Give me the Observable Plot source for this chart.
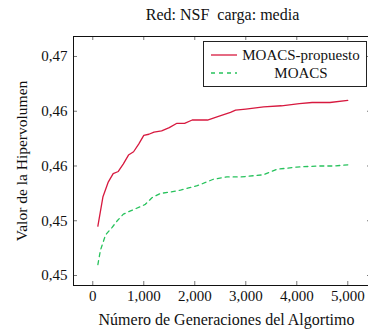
<!DOCTYPE html>
<html>
<head>
<meta charset="utf-8">
<script src="https://cdn.jsdelivr.net/npm/d3@7"></script>
<script src="https://cdn.jsdelivr.net/npm/@observablehq/plot@0.6"></script>
<style>
  html, body { margin: 0; padding: 0; background: #fff; overflow: hidden; }
  #wrap { position: relative; width: 368px; height: 333px; overflow: hidden; }
  #wrap svg, #wrap svg text { font-family: "Liberation Serif", serif !important; }
  #legend { position: absolute; left: 203px; top: 41px; width: 162px; height: 44px;
    border: 1px solid #222; background: #fff; font-family: "Liberation Serif", serif; font-size: 15px; color: #111; }
  .row { position: absolute; left: 0; width: 162px; height: 18px; }
  .row svg { position: absolute; left: 6px; top: 0; }
  .row span { position: absolute; left: 34px; right: 2px; text-align: center; line-height: 18px; }
</style>
</head>
<body>
<div id="wrap"></div>
<script>
const titleText = "Red: NSF  carga: media";
const xLabel = "Número de Generaciones del Algortimo";
const yLabel = "Valor de la Hipervolumen";
const seriesNames = ["MOACS-propuesto", "MOACS"];

const genPropuesto = [100,200,300,400,500,600,700,800,900,1000,1100,1200,1350,1500,1650,1800,1950,2250,2450,2700,2800,3000,3350,3700,4050,4300,4650,5000];
const hvPropuesto = [0.4545,0.4572,0.4585,0.4593,0.4595,0.4602,0.4610,0.4613,0.4620,0.4628,0.4629,0.4631,0.4632,0.4635,0.4639,0.4639,0.4642,0.4642,0.4645,0.4649,0.4651,0.4652,0.4654,0.4655,0.4657,0.4658,0.4658,0.4660];

const genMoacs = [100,150,250,380,480,600,740,940,1030,1160,1330,1490,1720,1880,2050,2210,2370,2630,2900,3350,3610,4000,4400,4720,5000];
const hvMoacs = [0.4510,0.4523,0.4537,0.4544,0.4550,0.4556,0.4559,0.4563,0.4565,0.4571,0.4575,0.4576,0.4578,0.4580,0.4582,0.4585,0.4588,0.4590,0.4590,0.4592,0.4597,0.4599,0.4600,0.4600,0.4601];

const xTicks = [0,1000,2000,3000,4000,5000];
const yTicks = [0.45,0.455,0.46,0.465,0.47];
const yTickLabels = ["0,45","0,45","0,46","0,46","0,47"];

const red = "#d7193f";
const green = "#27c25c";

const dataP = genPropuesto.map((g,i) => ({g, v: hvPropuesto[i]}));
const dataM = genMoacs.map((g,i) => ({g, v: hvMoacs[i]}));

const W = 368, H = 333;
const mL = 73, mR = -3, mT = 36, mB = 48;
const fw = W - mL - mR, fh = H - mT - mB;
const tl = 4;
const font = "Liberation Serif";

const chart = Plot.plot({
  width: W, height: H,
  marginLeft: mL, marginRight: mR, marginTop: mT, marginBottom: mB,
  style: {color: "#111", background: "#fff", overflow: "visible"},
  x: {domain: [-378, 5465], ticks: xTicks},
  y: {domain: [0.449087, 0.471826], ticks: yTicks},
  marks: [
    Plot.axisX(xTicks, {anchor: "bottom", tickSize: 0, tickPadding: 5, tickFormat: d3.format(","), label: null, fontSize: 15, fontFamily: font}),
    Plot.axisY(yTicks, {anchor: "left", tickSize: 0, tickPadding: 6, tickFormat: (d) => yTickLabels[yTicks.indexOf(d)], label: null, fontSize: 15, fontFamily: font}),
    Plot.tickX(xTicks, {x: d => d, insetTop: fh - tl, stroke: "#555", strokeWidth: 0.8}),
    Plot.tickX(xTicks, {x: d => d, insetBottom: fh - tl, stroke: "#555", strokeWidth: 0.8}),
    Plot.tickY(yTicks, {y: d => d, insetRight: fw - tl, stroke: "#555", strokeWidth: 0.8}),
    Plot.tickY(yTicks, {y: d => d, insetLeft: fw - tl, stroke: "#555", strokeWidth: 0.8}),
    Plot.line(dataM, {x: "g", y: "v", stroke: green, strokeWidth: 1.3, strokeDasharray: "4,4"}),
    Plot.line(dataP, {x: "g", y: "v", stroke: red, strokeWidth: 1.3}),
    Plot.frame({stroke: "#111", strokeWidth: 1}),
    Plot.text([titleText], {frameAnchor: "top", textAnchor: "middle", lineAnchor: "middle", dy: -22, text: d => d, fontSize: 16, fontFamily: font, fill: "#111"}),
    Plot.text([xLabel], {frameAnchor: "bottom", textAnchor: "middle", lineAnchor: "middle", dy: 34, dx: 4, text: d => d, fontSize: 16, fontFamily: font, fill: "#111"}),
    Plot.text([yLabel], {frameAnchor: "left", textAnchor: "middle", lineAnchor: "middle", dx: -51, rotate: -90, text: d => d, fontSize: 15.5, fontFamily: font, fill: "#111"})
  ]
});

const wrap = document.getElementById("wrap");
wrap.appendChild(chart);

const legend = document.createElement("div");
legend.id = "legend";
legend.innerHTML = `
  <div class="row" style="top:4px"><svg width="28" height="18"><line x1="1" y1="9" x2="27" y2="9" stroke="${red}" stroke-width="1.3"/></svg><span>${seriesNames[0]}</span></div>
  <div class="row" style="top:22px"><svg width="28" height="18"><line x1="1" y1="9" x2="27" y2="9" stroke="${green}" stroke-width="1.3" stroke-dasharray="4,4"/></svg><span>${seriesNames[1]}</span></div>`;
wrap.appendChild(legend);
</script>
</body>
</html>
